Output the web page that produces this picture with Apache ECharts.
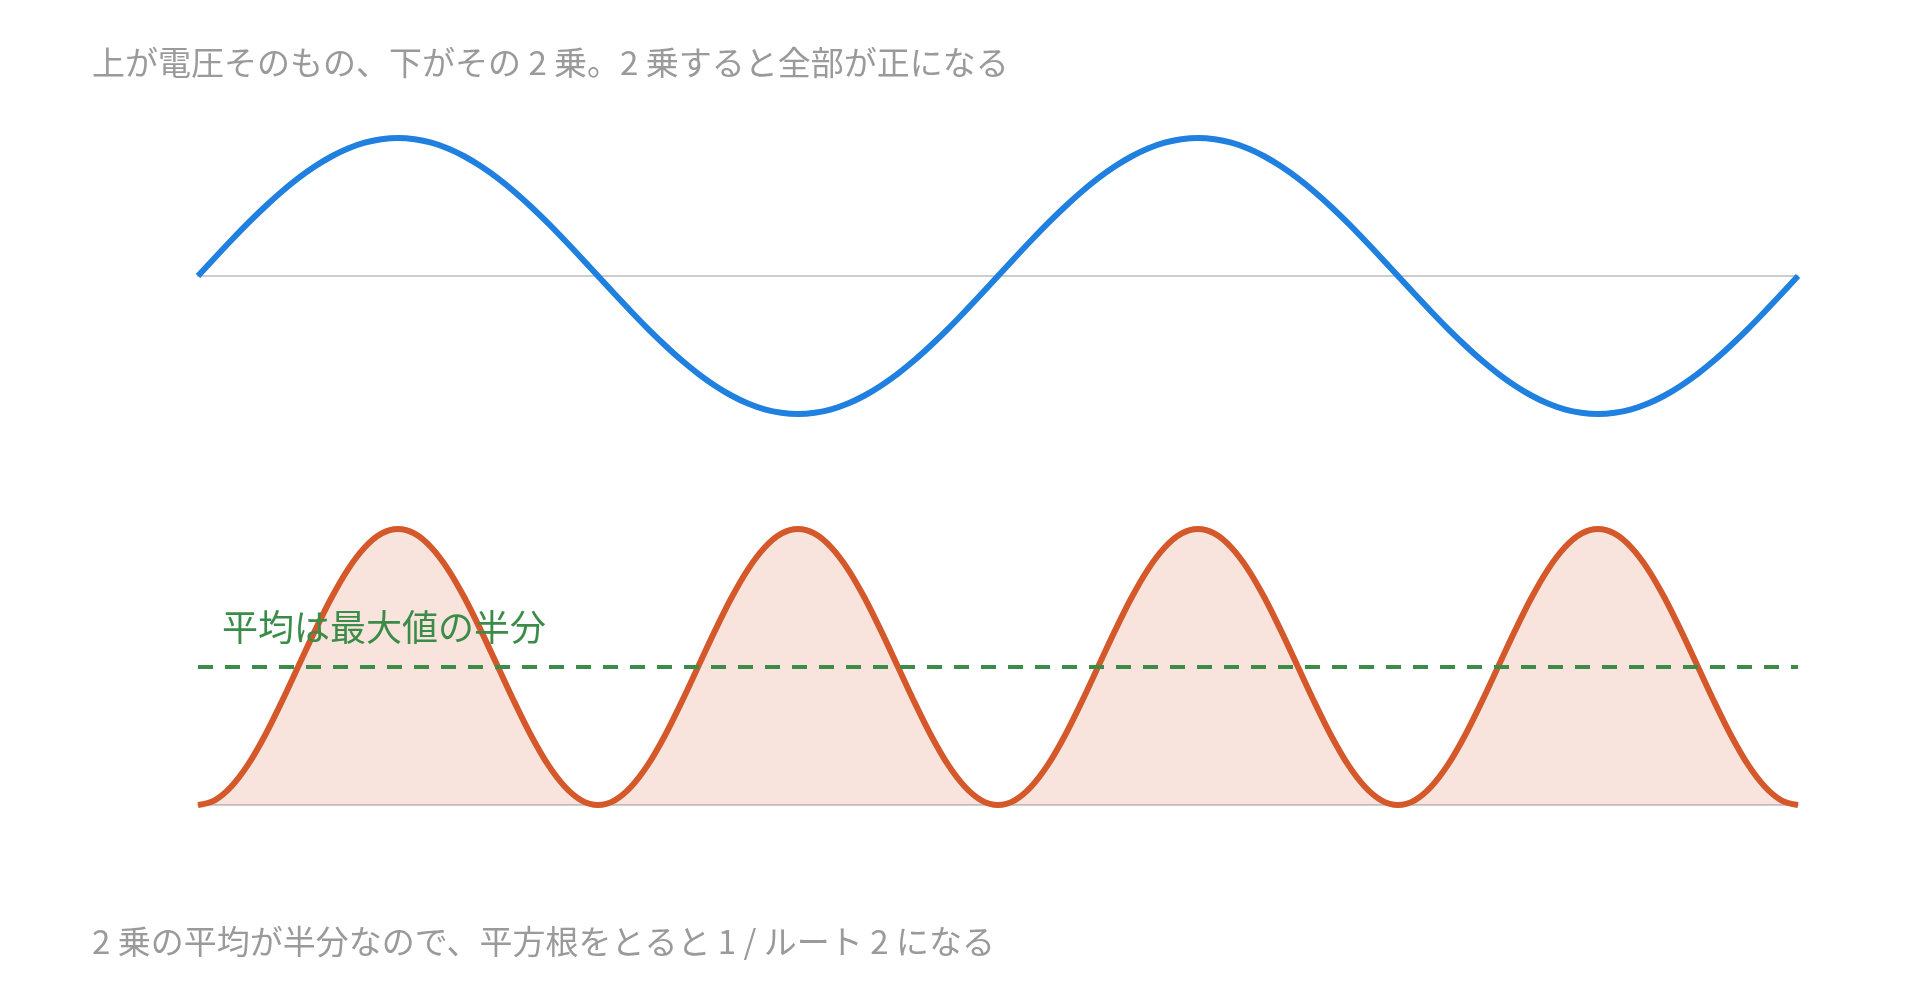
<!DOCTYPE html>
<html>

<head>
    <meta charset="utf-8" />
    <script src="https://cdn.jsdelivr.net/npm/echarts@6/dist/echarts.min.js"></script>
    <style type="text/css">
        html,
        body {
            margin: 0;
            padding: 0;
            background: #fff;
        }

        #main {
            width: 1920px;
            height: 990px;
        }
    </style>
</head>

<body>
    <div id="main"></div>
    <script type="text/javascript">
        // 位相（度）— 2 周期ぶん、7.5 度刻み
        var angles = [0, 7.5, 15, 22.5, 30, 37.5, 45, 52.5, 60, 67.5, 75, 82.5, 90,
            97.5, 105, 112.5, 120, 127.5, 135, 142.5, 150, 157.5, 165, 172.5, 180,
            187.5, 195, 202.5, 210, 217.5, 225, 232.5, 240, 247.5, 255, 262.5, 270,
            277.5, 285, 292.5, 300, 307.5, 315, 322.5, 330, 337.5, 345, 352.5, 360,
            367.5, 375, 382.5, 390, 397.5, 405, 412.5, 420, 427.5, 435, 442.5, 450,
            457.5, 465, 472.5, 480, 487.5, 495, 502.5, 510, 517.5, 525, 532.5, 540,
            547.5, 555, 562.5, 570, 577.5, 585, 592.5, 600, 607.5, 615, 622.5, 630,
            637.5, 645, 652.5, 660, 667.5, 675, 682.5, 690, 697.5, 705, 712.5, 720];
        // 上：電圧そのもの
        var voltage = [0, 0.131, 0.259, 0.383, 0.5, 0.609, 0.707, 0.793, 0.866, 0.924, 0.966, 0.991, 1,
            0.991, 0.966, 0.924, 0.866, 0.793, 0.707, 0.609, 0.5, 0.383, 0.259, 0.131, 0,
            -0.131, -0.259, -0.383, -0.5, -0.609, -0.707, -0.793, -0.866, -0.924, -0.966, -0.991, -1,
            -0.991, -0.966, -0.924, -0.866, -0.793, -0.707, -0.609, -0.5, -0.383, -0.259, -0.131, 0,
            0.131, 0.259, 0.383, 0.5, 0.609, 0.707, 0.793, 0.866, 0.924, 0.966, 0.991, 1,
            0.991, 0.966, 0.924, 0.866, 0.793, 0.707, 0.609, 0.5, 0.383, 0.259, 0.131, 0,
            -0.131, -0.259, -0.383, -0.5, -0.609, -0.707, -0.793, -0.866, -0.924, -0.966, -0.991, -1,
            -0.991, -0.966, -0.924, -0.866, -0.793, -0.707, -0.609, -0.5, -0.383, -0.259, -0.131, 0];
        // 下：その 2 乗
        var squared = [0, 0.017, 0.067, 0.146, 0.25, 0.371, 0.5, 0.629, 0.75, 0.854, 0.933, 0.983, 1,
            0.983, 0.933, 0.854, 0.75, 0.629, 0.5, 0.371, 0.25, 0.146, 0.067, 0.017, 0,
            0.017, 0.067, 0.146, 0.25, 0.371, 0.5, 0.629, 0.75, 0.854, 0.933, 0.983, 1,
            0.983, 0.933, 0.854, 0.75, 0.629, 0.5, 0.371, 0.25, 0.146, 0.067, 0.017, 0,
            0.017, 0.067, 0.146, 0.25, 0.371, 0.5, 0.629, 0.75, 0.854, 0.933, 0.983, 1,
            0.983, 0.933, 0.854, 0.75, 0.629, 0.5, 0.371, 0.25, 0.146, 0.067, 0.017, 0,
            0.017, 0.067, 0.146, 0.25, 0.371, 0.5, 0.629, 0.75, 0.854, 0.933, 0.983, 1,
            0.983, 0.933, 0.854, 0.75, 0.629, 0.5, 0.371, 0.25, 0.146, 0.067, 0.017, 0];
        var average = 0.5;

        var topText = "上が電圧そのもの、下がその 2 乗。2 乗すると全部が正になる";
        var bottomText = "2 乗の平均が半分なので、平方根をとると 1 / ルート 2 になる";
        var avgLabel = "平均は最大値の半分";

        var font = '"Noto Sans CJK JP", "Noto Sans", sans-serif';

        var myChart = echarts.init(document.getElementById("main"));

        var option = {
            animation: false,
            textStyle: { fontFamily: font },
            title: [
                {
                    text: topText,
                    left: 92,
                    top: 46,
                    padding: 0,
                    textStyle: { fontFamily: font, fontSize: 33, fontWeight: "normal", color: "#9a9a9a" },
                },
                {
                    text: bottomText,
                    left: 92,
                    top: 925,
                    padding: 0,
                    textStyle: { fontFamily: font, fontSize: 33, fontWeight: "normal", color: "#9a9a9a" },
                },
            ],
            grid: [
                { left: 198, width: 1600, top: 138, height: 276 },
                { left: 198, width: 1600, top: 529, height: 276 },
            ],
            xAxis: [
                {
                    gridIndex: 0,
                    type: "category",
                    data: angles,
                    boundaryGap: false,
                    axisLine: { onZero: true, lineStyle: { color: "#cccccc", width: 2 } },
                    axisTick: { show: false },
                    axisLabel: { show: false },
                    splitLine: { show: false },
                },
                {
                    gridIndex: 1,
                    type: "category",
                    data: angles,
                    boundaryGap: false,
                    axisLine: { lineStyle: { color: "#cccccc", width: 2 } },
                    axisTick: { show: false },
                    axisLabel: { show: false },
                    splitLine: { show: false },
                },
            ],
            yAxis: [
                { gridIndex: 0, type: "value", min: -1, max: 1, show: false },
                { gridIndex: 1, type: "value", min: 0, max: 1, show: false },
            ],
            graphic: [
                {
                    type: "text",
                    left: 222,
                    top: 609,
                    style: { text: avgLabel, font: "36px " + font, fill: "#3b8c48" },
                    z: 10,
                },
            ],
            series: [
                {
                    name: "電圧",
                    type: "line",
                    xAxisIndex: 0,
                    yAxisIndex: 0,
                    data: voltage,
                    smooth: 0.35,
                    symbol: "none",
                    lineStyle: { color: "#1f80e0", width: 6 },
                },
                {
                    name: "2 乗",
                    type: "line",
                    xAxisIndex: 1,
                    yAxisIndex: 1,
                    data: squared,
                    smooth: 0.35,
                    symbol: "none",
                    lineStyle: { color: "#d4582a", width: 6 },
                    areaStyle: { color: "rgba(212, 88, 42, 0.16)", opacity: 1, origin: "start" },
                    markLine: {
                        silent: true,
                        symbol: "none",
                        label: { show: false },
                        lineStyle: { color: "#3b8c48", width: 4, type: [15, 12] },
                        data: [{ yAxis: average }],
                    },
                },
            ],
        };

        myChart.setOption(option);
    </script>
</body>

</html>
